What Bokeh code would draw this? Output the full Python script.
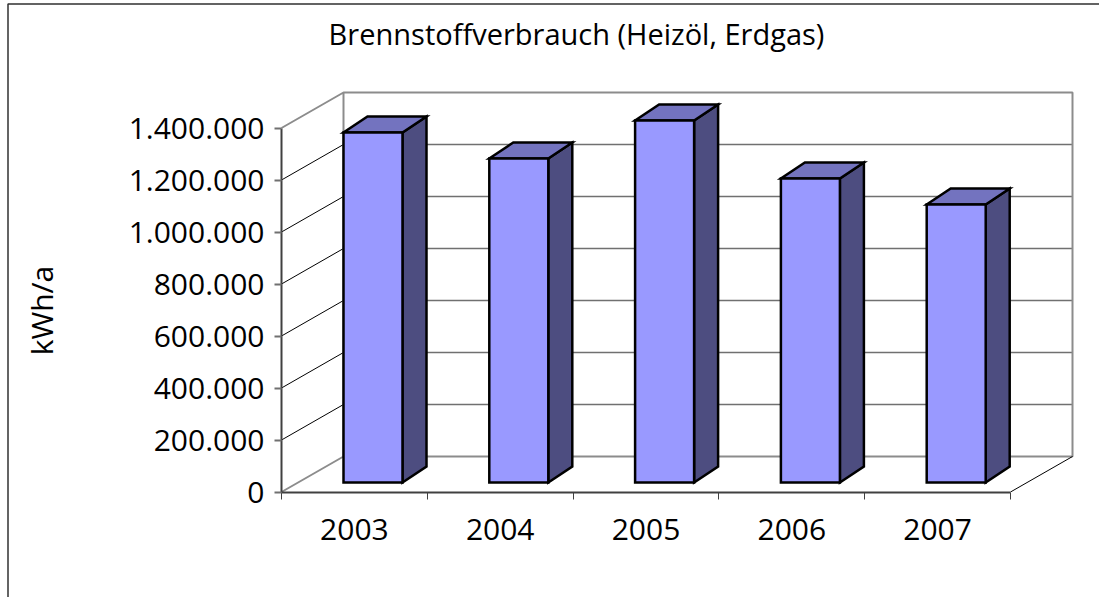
import math
from bokeh.plotting import figure
from bokeh.embed import file_html
from bokeh.resources import INLINE
from bokeh.core.properties import value
from bokeh.models import Range1d, FixedTicker

years = ["2003", "2004", "2005", "2006", "2007"]
values = [1346000, 1246000, 1392000, 1169000, 1069000]
y_ticks = [0, 200000, 400000, 600000, 800000, 1000000, 1200000, 1400000]
y_labels = ["0", "200.000", "400.000", "600.000", "800.000", "1.000.000", "1.200.000", "1.400.000"]
title = "Brennstoffverbrauch (Heizöl, Erdgas)"
y_title = "kWh/a"

FONT = "Open Sans"
W, H = 1099, 597
ORIG_X, ORIG_Y = 281, 491.5   # pixel position of the axes' origin
PX_X = 145.8      # pixels per category slot
PX_Y = 0.00026    # pixels per kWh/a
DX = 62 / PX_X    # wall depth in x
DY = 35.5 / PX_Y  # wall depth in y
BDX = 24 / PX_X   # bar depth
BDY = 16 / PX_Y
BAR_W = 59 / PX_X
BAR_X0 = 62 / PX_X
BAR_Y0 = 9.5 / PX_Y
YMAX = y_ticks[-1]
N = len(years)

def X(px):
    return (px - ORIG_X) / PX_X

def Y(px):
    return (ORIG_Y - px) / PX_Y

p = figure(width=W, height=H, output_backend="svg", toolbar_location=None,
           x_range=Range1d(X(0), X(W)), y_range=Range1d(Y(H), Y(0)),
           min_border=0, outline_line_color=None, background_fill_color="white")
p.grid.visible = False

# chart frame (only its left and top edges are in the picture)
p.line([X(7.5), X(7.5), X(W)], [Y(H), Y(3.5), Y(3.5)], line_color="#303030", line_width=1.5)

# walls
for t in y_ticks[1:-1]:
    p.line([DX, N + DX], [t + DY, t + DY], line_color="#707070", line_width=1.6)
    p.line([0, DX], [t, t + DY], line_color="#000000", line_width=1)
p.line([0, DX, DX, N + DX, N + DX, DX, DX, 0], [YMAX, YMAX + DY, DY, DY, YMAX + DY, YMAX + DY, DY, 0],
       line_color="#8c8c8c", line_width=2)
p.line([N, N + DX], [0, DY], line_color="#000000", line_width=1)

# bars
for i, v in enumerate(values):
    x0 = i + BAR_X0
    x1 = x0 + BAR_W
    y0 = BAR_Y0
    y1 = BAR_Y0 + v
    p.patch([x1, x1 + BDX, x1 + BDX, x1], [y0, y0 + BDY, y1 + BDY, y1],
            fill_color="#4d4d80", line_color="#000000", line_width=2.5, line_join="miter")
    p.patch([x0, x1, x1 + BDX, x0 + BDX], [y1, y1, y1 + BDY, y1 + BDY],
            fill_color="#7373bf", line_color="#000000", line_width=2.5, line_join="miter")
    p.patch([x0, x1, x1, x0], [y0, y0, y1, y1],
            fill_color="#9999ff", line_color="#000000", line_width=2.5, line_join="miter")

# axes
xa = p.xaxis[0]
centres = [i + 0.5 for i in range(N)]
xa.fixed_location = 0
xa.ticker = FixedTicker(ticks=centres, minor_ticks=list(range(N + 1)))
xa.major_label_overrides = {c: y for c, y in zip(centres, years)}
xa.bounds = (0, N)
xa.major_tick_out = 0
xa.major_tick_in = 0
xa.minor_tick_out = 7
xa.minor_tick_in = 0
xa.minor_tick_line_color = "#404040"
xa.axis_line_color = "#404040"
xa.axis_line_width = 2
xa.major_label_text_font = FONT
xa.major_label_text_font_size = "30px"
xa.major_label_text_color = "#000000"
xa.major_label_standoff = 20

ya = p.yaxis[0]
ya.fixed_location = 0
ya.ticker = FixedTicker(ticks=y_ticks)
ya.major_label_overrides = {t: l for t, l in zip(y_ticks, y_labels)}
ya.bounds = (0, YMAX)
ya.major_tick_out = 7
ya.major_tick_in = 0
ya.minor_tick_out = 0
ya.minor_tick_in = 0
ya.major_tick_line_color = "#707070"
ya.major_tick_line_width = 2
ya.axis_line_color = "#404040"
ya.axis_line_width = 2
ya.major_label_text_font = FONT
ya.major_label_text_font_size = "30px"
ya.major_label_text_color = "#000000"
ya.major_label_standoff = 10

# titles
p.text([X(576)], [Y(33)], text=[title], text_align="center", text_baseline="middle",
       text_font=value(FONT), text_font_size="29px", text_color="#000000")
p.text([X(41)], [Y(310)], text=[y_title], angle=math.pi / 2, text_align="center", text_baseline="middle",
       text_font=value(FONT), text_font_size="30px", text_color="#000000")

open("out.html", "w").write(file_html(p, INLINE))
